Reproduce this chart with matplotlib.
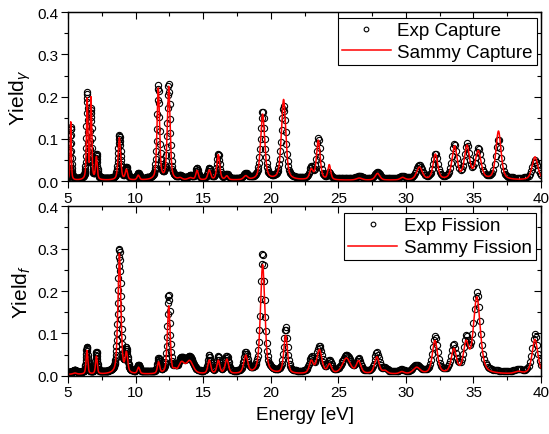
import numpy as np
import matplotlib
matplotlib.use('Agg')
import matplotlib.pyplot as plt
from matplotlib.ticker import MultipleLocator

plt.rcParams['font.family'] = ['Liberation Sans', 'DejaVu Sans']
plt.rcParams['mathtext.fontset'] = 'custom'
plt.rcParams['mathtext.rm'] = 'Liberation Sans'
plt.rcParams['mathtext.it'] = 'Liberation Sans:italic'

# --- resonances (energy eV, peak yield exp / sammy, width eV)
cap_energy = [5.20, 6.42, 6.70, 7.10, 8.80, 9.32, 10.20, 11.68, 12.45, 13.30, 14.05,
              14.55, 15.45, 16.12, 16.75, 18.15, 19.40, 20.95, 23.00, 23.52, 24.33,
              26.55, 27.90, 29.75, 31.00, 32.18, 33.60, 34.52, 35.35, 36.85, 39.55]
cap_exp = [0.122, 0.200, 0.160, 0.056, 0.102, 0.026, 0.012, 0.218, 0.222, 0.005, 0.006,
           0.024, 0.024, 0.058, 0.010, 0.011, 0.158, 0.170, 0.025, 0.094, 0.014,
           0.006, 0.016, 0.006, 0.032, 0.058, 0.080, 0.078, 0.068, 0.092, 0.043]
cap_sammy = [0.138, 0.190, 0.192, 0.053, 0.100, 0.024, 0.011, 0.216, 0.220, 0.004, 0.005,
             0.022, 0.023, 0.060, 0.009, 0.009, 0.155, 0.190, 0.023, 0.093, 0.035,
             0.005, 0.016, 0.006, 0.030, 0.060, 0.078, 0.078, 0.066, 0.115, 0.055]
cap_width = [0.10, 0.13, 0.13, 0.15, 0.22, 0.20, 0.20, 0.22, 0.24, 0.30, 0.40,
             0.22, 0.25, 0.25, 0.25, 0.35, 0.36, 0.38, 0.30, 0.32, 0.25,
             0.50, 0.40, 0.40, 0.50, 0.40, 0.45, 0.45, 0.50, 0.45, 0.50]
cap_bg_exp, cap_bg_sammy = 0.006, 0.002

# --- resonances
fis_energy = [5.50, 6.40, 7.10, 8.80, 9.32, 10.22, 11.70, 12.45, 12.90, 13.40, 14.00,
              15.45, 16.12, 16.75, 18.15, 19.40, 21.10, 23.00, 23.60, 24.35, 25.60,
              26.50, 27.85, 28.45, 29.70, 30.80, 32.15, 33.55, 34.45, 35.25, 38.30, 39.55]
fis_exp = [0.004, 0.060, 0.048, 0.290, 0.050, 0.016, 0.030, 0.182, 0.008, 0.030, 0.034,
           0.038, 0.035, 0.036, 0.044, 0.280, 0.104, 0.032, 0.060, 0.025, 0.040,
           0.030, 0.046, 0.008, 0.005, 0.016, 0.083, 0.060, 0.074, 0.185, 0.005, 0.090]
fis_sammy = [0.003, 0.056, 0.042, 0.284, 0.046, 0.015, 0.027, 0.160, 0.006, 0.025, 0.030,
             0.032, 0.031, 0.034, 0.042, 0.258, 0.090, 0.029, 0.056, 0.021, 0.037,
             0.029, 0.040, 0.007, 0.005, 0.015, 0.078, 0.056, 0.067, 0.180, 0.005, 0.082]
fis_width = [0.30, 0.15, 0.15, 0.26, 0.22, 0.20, 0.20, 0.24, 0.20, 0.50, 0.60,
             0.25, 0.25, 0.30, 0.35, 0.38, 0.32, 0.35, 0.45, 0.35, 0.70,
             0.40, 0.40, 0.40, 0.40, 0.60, 0.45, 0.45, 0.45, 0.60, 0.60, 0.50]
fis_bg_exp, fis_bg_sammy = 0.008, 0.003

e_min, e_max = 5, 40


def resonances(e, centers, heights, widths, bg):
    # pseudo-Voigt line shapes on a flat background
    y = np.full_like(e, bg)
    for c, h, w in zip(centers, heights, widths):
        u = (e - c) / (w / 2)
        y += h * (0.5 / (1 + u ** 2) + 0.5 * np.exp(-np.log(2) * u ** 2))
    return y


# time-of-flight like grid for the measured points, fine grid for the fit
e_exp = e_min * np.exp(np.arange(0, np.log(e_max / e_min), 0.0023))
e_fit = np.linspace(e_min, e_max, 4000)

fig = plt.figure(figsize=(5.49, 4.35), dpi=100)
ax_cap = fig.add_axes([0.1239, 0.581, 0.8616, 0.389])
ax_fis = fig.add_axes([0.1239, 0.134, 0.8616, 0.3894])

panels = [(ax_cap, cap_energy, cap_exp, cap_sammy, cap_width, cap_bg_exp, cap_bg_sammy,
           'Capture', r'Yield$_\gamma$', (0.9915, 0.965)),
          (ax_fis, fis_energy, fis_exp, fis_sammy, fis_width, fis_bg_exp, fis_bg_sammy,
           'Fission', r'Yield$_f$', (0.989, 0.960))]

for ax, en, hexp, hsam, wid, bge, bgs, name, ylab, anchor in panels:
    ax.plot(e_exp, resonances(e_exp, en, hexp, wid, bge), 'o', mfc='none', mec='black',
            ms=4.5, mew=0.8, label='Exp ' + name)
    ax.plot(e_fit, resonances(e_fit, en, hsam, wid, bgs), '-', color='red', lw=1.1,
            label='Sammy ' + name)
    ax.set_xlim(e_min, e_max)
    ax.set_ylim(0, 0.4)
    ax.xaxis.set_major_locator(MultipleLocator(5))
    ax.xaxis.set_minor_locator(MultipleLocator(2.5))
    ax.yaxis.set_major_locator(MultipleLocator(0.1))
    ax.yaxis.set_minor_locator(MultipleLocator(0.05))
    ax.tick_params(which='both', direction='out', labelsize=11, width=0.8, pad=2)
    ax.tick_params(which='major', length=5)
    ax.tick_params(which='minor', length=3)
    # inward ticks on top and right, no labels
    top = ax.secondary_xaxis('top')
    top.xaxis.set_major_locator(MultipleLocator(5))
    top.xaxis.set_minor_locator(MultipleLocator(2.5))
    top.tick_params(which='both', direction='in', labeltop=False, width=0.8)
    top.tick_params(which='major', length=5)
    top.tick_params(which='minor', length=3)
    right = ax.secondary_yaxis('right')
    right.yaxis.set_major_locator(MultipleLocator(0.1))
    right.yaxis.set_minor_locator(MultipleLocator(0.05))
    right.tick_params(which='both', direction='in', labelright=False, width=0.8)
    right.tick_params(which='major', length=5)
    right.tick_params(which='minor', length=3)
    for sp in ax.spines.values():
        sp.set_linewidth(1.0)
    ax.set_ylabel(ylab, fontsize=15, labelpad=3)
    leg = ax.legend(loc='upper right', bbox_to_anchor=anchor, fontsize=13.5, frameon=True,
                    fancybox=False, edgecolor='black', framealpha=1, borderpad=0.22,
                    handlelength=2.6, handletextpad=0.35, labelspacing=0.25,
                    borderaxespad=0, markerscale=0.75)
    leg.get_frame().set_linewidth(0.8)

ax_fis.set_xlabel('Energy [eV]', fontsize=13.5, labelpad=5)

fig.savefig('out.png', dpi=100)
